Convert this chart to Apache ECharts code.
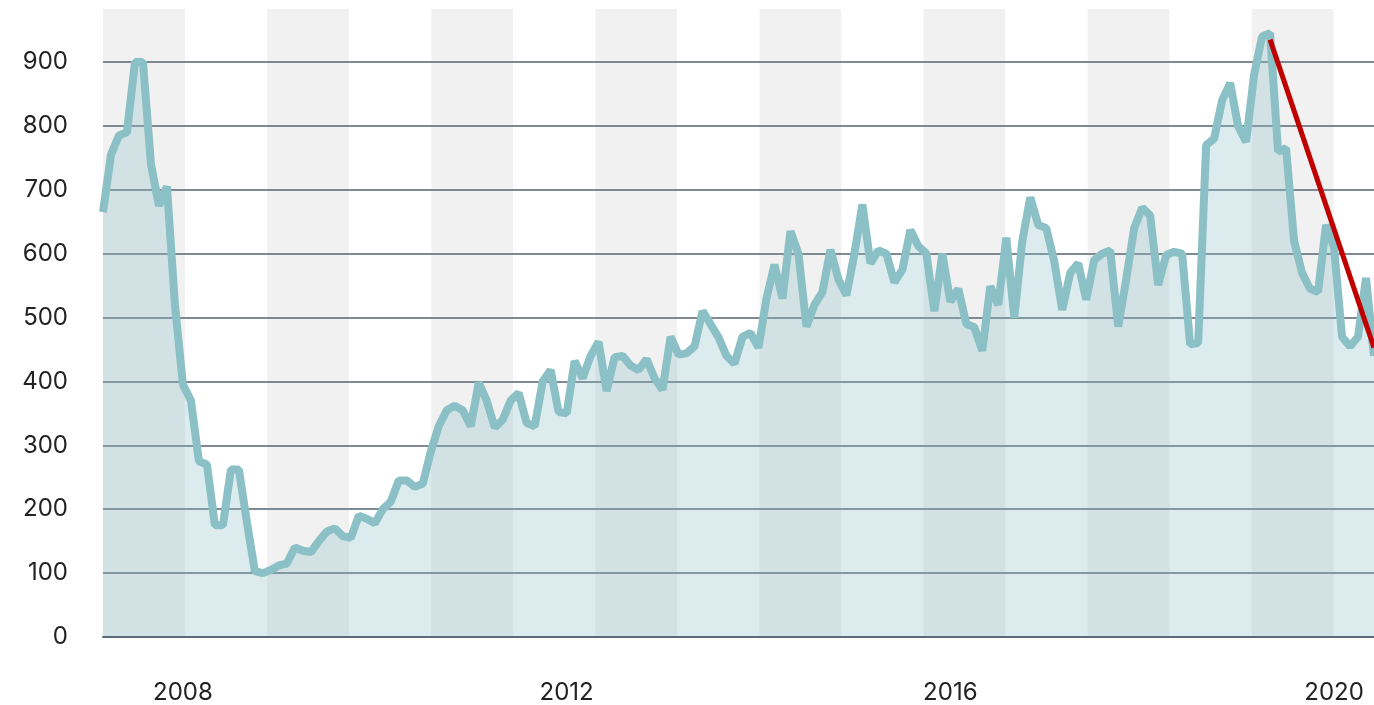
<!DOCTYPE html>
<html>
<head>
<meta charset="utf-8">
<title>Chart</title>
<script src="https://cdn.jsdelivr.net/npm/echarts@6.0.0/dist/echarts.min.js"></script>
<style>
  html, body { margin: 0; padding: 0; background: #fff; }
  #chart { width: 1374px; height: 705px; }
</style>
</head>
<body>
<div id="chart"></div>
<script>
// monthly points, Mar 2007 .. Jun 2020
const startYear = 2007
const startMonth = 3
const values = [
  665, 755, 785, 790, 900, 900, 740, 675, 705, 520,
  395, 370, 275, 270, 175, 175, 262, 262, 180, 103,
  100, 105, 112, 115, 140, 135, 133, 150, 165, 170,
  158, 155, 190, 185, 178, 200, 212, 245, 245, 235,
  240, 290, 330, 355, 362, 355, 330, 398, 370, 328,
  340, 370, 382, 335, 330, 400, 418, 352, 350, 432,
  405, 440, 462, 385, 438, 440, 425, 418, 435, 405,
  387, 470, 442, 444, 455, 510, 490, 469, 440, 428,
  470, 476, 453, 530, 583, 530, 635, 600, 486, 520,
  540, 606, 560, 535, 600, 677, 585, 605, 600, 555,
  575, 637, 612, 600, 510, 600, 525, 545, 490, 485,
  448, 549, 520, 625, 500, 620, 688, 645, 640, 588,
  512, 570, 585, 528, 590, 600, 605, 486, 560, 640,
  672, 660, 551, 598, 603, 600, 458, 460, 770, 780,
  840, 867, 800, 775, 880, 940, 945, 760, 765, 620,
  570, 545, 540, 645, 610, 470, 455, 470, 562, 440
]

const months = []
for (let i = 0; i < values.length; i++) {
  const m = startMonth - 1 + i
  const y = startYear + Math.floor(m / 12)
  const mm = String((m % 12) + 1).padStart(2, '0')
  months.push(y + '-' + mm)
}

const yearLabels = ['2008', '2012', '2016', '2020']

// red trend line from the 2019 peak down to the last month
const trendMonths = ['2019-05', '2020-06']
const trendValues = [935, 453]

const yTicks = [0, 100, 200, 300, 400, 500, 600, 700, 800, 900]

const font = { fontFamily: 'Inter', fontSize: 24, color: '#222' }

const chart = echarts.init(document.getElementById('chart'))

chart.setOption({
  animation: false,
  grid: { left: 103, right: 0, top: 9, bottom: 67, containLabel: false },
  xAxis: [
    {
      type: 'category',
      data: months,
      boundaryGap: false,
      axisLine: { show: true, lineStyle: { color: '#5b6a76', width: 2 } },
      axisTick: { show: false },
      splitLine: { show: false },
      axisLabel: {
        ...font,
        margin: 44,
        interval: (idx, val) => yearLabels.some(y => val === y + '-01'),
        formatter: val => val.slice(0, 4)
      },
      z: 3
    },
    {
      // alternating background bands
      type: 'value',
      min: 0,
      max: 15.49,
      interval: 1,
      position: 'top',
      axisLine: { show: false },
      axisTick: { show: false },
      axisLabel: { show: false },
      splitLine: { show: false },
      splitArea: { show: true, areaStyle: { color: ['#f1f1f1', '#ffffff'] } },
      z: 0
    }
  ],
  yAxis: {
    type: 'value',
    min: 0,
    max: 983,
    interval: 100,
    z: 1,
    axisLine: { show: false },
    axisTick: { show: false },
    axisLabel: {
      ...font,
      margin: 35,
      showMaxLabel: false,
      formatter: v => (yTicks.includes(v) ? String(v) : '')
    },
    splitLine: {
      show: true,
      showMaxLine: false,
      lineStyle: { color: '#7f8992', width: 2 }
    }
  },
  series: [
    {
      type: 'line',
      data: values,
      showSymbol: false,
      lineStyle: { color: '#8bc0c6', width: 8 },
      areaStyle: { color: 'rgb(140, 192, 198)', opacity: 0.3 },
      z: 2
    },
    {
      type: 'line',
      data: trendMonths.map((m, i) => [m, trendValues[i]]),
      showSymbol: false,
      lineStyle: { color: '#c00000', width: 5 },
      z: 4
    }
  ]
})

window.addEventListener('resize', () => chart.resize())
</script>
</body>
</html>
